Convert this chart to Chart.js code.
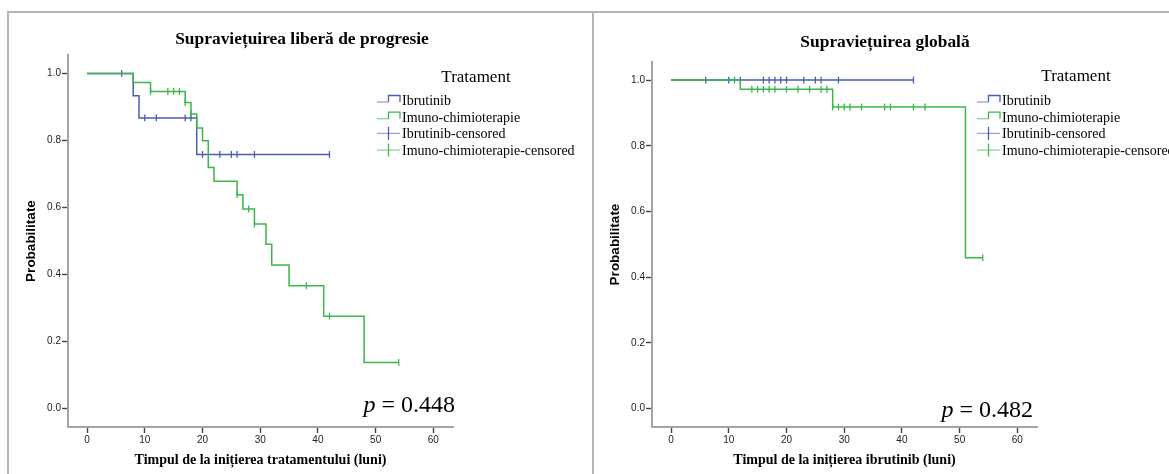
<!DOCTYPE html>
<html>
<head>
<meta charset="utf-8">
<script src="https://cdn.jsdelivr.net/npm/chart.js@4.4.1/dist/chart.umd.min.js"></script>
<style>
  html, body { margin: 0; padding: 0; background: #fff; }
  body { width: 1169px; height: 474px; position: relative; overflow: hidden; }
  .frame { position: absolute; left: 7px; top: 11px; width: 1200px; height: 500px;
           border-top: 2px solid #b4b4b4; border-left: 2px solid #b4b4b4; }
  .sep { position: absolute; left: 592px; top: 11px; width: 2px; height: 470px; background: #b4b4b4; }
  .box { position: absolute; top: 0; height: 474px; }
  #boxPfs { left: 0; width: 590px; }
  #boxOs { left: 584px; width: 585px; }
</style>
</head>
<body>
<div class="frame"></div>
<div class="sep"></div>
<div class="box" id="boxPfs"><canvas id="pfsChart"></canvas></div>
<div class="box" id="boxOs"><canvas id="osChart"></canvas></div>
<script>
// --- ticks si legenda
const timeTicks = [0, 10, 20, 30, 40, 50, 60];
const probTicks = [0, 0.2, 0.4, 0.6, 0.8, 1.0];
const legendLabels = ['Ibrutinib', 'Imuno-chimioterapie', 'Ibrutinib-censored', 'Imuno-chimioterapie-censored'];

// --- Supravietuirea libera de progresie (PFS)
const pfsIbrTime = [0, 8, 9, 19, 42];
const pfsIbrSurv = [1.0, 0.933, 0.867, 0.758, 0.758];
const pfsIbrCens = [6, 10, 12, 17, 18, 20, 23, 25, 26, 29, 42];
const pfsImunoTime = [0, 8, 11, 17, 18, 19, 20, 21, 22, 26, 27, 29, 31, 32, 35, 41, 48, 54];
const pfsImunoSurv = [1.0, 0.973, 0.946, 0.913, 0.879, 0.837, 0.799, 0.719, 0.678, 0.638, 0.595, 0.550, 0.490, 0.428, 0.366, 0.275, 0.137, 0.137];
const pfsImunoCens = [11, 14, 15, 16, 17, 18, 26, 28, 29, 38, 42, 54];
const pfsP = '0.448';

// --- Supravietuirea globala (OS)
const osIbrTime = [0, 42];
const osIbrSurv = [1.0, 1.0];
const osIbrCens = [6, 10, 12, 16, 17, 18, 19, 20, 23, 25, 26, 29, 42];
const osImunoTime = [0, 12, 28, 51, 54];
const osImunoSurv = [1.0, 0.972, 0.918, 0.459, 0.459];
const osImunoCens = [11, 14, 15, 16, 17, 18, 20, 22, 24, 26, 27, 28, 29, 30, 31, 33, 37, 38, 42, 44, 54];
const osP = '0.482';

const BLUE = '#4a5cb4';
const BLUE_LIGHT = '#97a3d8';
const GREEN = '#3cb54a';
const GREEN_LIGHT = '#8fd69a';

// valoarea curbei la momentul t (pentru semnele de cenzurare)
function stepAt(times, surv, t) {
    let s = surv[0];
    for (let i = 0; i < times.length; i++) {
        if (times[i] <= t) s = surv[i];
    }
    return s;
}

const curve = (times, surv) => times.map((t, i) => ({ x: t, y: surv[i] }));
const marks = (times, surv, cens) => cens.map(t => ({ x: t, y: stepAt(times, surv, t) }));

function kmDatasets(ibrT, ibrS, ibrC, imT, imS, imC) {
    const lineDs = (data, color, order) => ({
        data, borderColor: color, borderWidth: 1.5, stepped: true,
        pointRadius: 0, fill: false, order
    });
    const censDs = (data, color, order) => ({
        data, showLine: false, pointStyle: 'line', rotation: 90,
        pointRadius: 3.4, pointBorderColor: color, pointBorderWidth: 1.3, order
    });
    return [
        lineDs(curve(imT, imS), GREEN, 1),
        censDs(marks(imT, imS, imC), GREEN, 0),
        lineDs(curve(ibrT, ibrS), BLUE, 3),
        censDs(marks(ibrT, ibrS, ibrC), BLUE, 2)
    ];
}

// titlu, legenda si valoarea p
const decor = {
    id: 'decor',
    afterDraw(chart, args, o) {
        const ctx = chart.ctx;
        ctx.save();
        ctx.fillStyle = '#000';
        ctx.textBaseline = 'alphabetic';

        ctx.textAlign = 'center';
        ctx.font = 'bold 17.4px "Liberation Serif"';
        ctx.fillText(o.title, o.titleX, o.titleY);

        ctx.font = '17px "Liberation Serif"';
        ctx.fillText('Tratament', o.legX + 99, o.legTitleY);

        ctx.textAlign = 'left';
        ctx.font = '14px "Liberation Serif"';
        ctx.lineWidth = 1.3;
        legendLabels.forEach((label, i) => {
            const base = o.legY + i * 16.7;
            const dark = i % 2 === 0 ? BLUE : GREEN;
            const light = i % 2 === 0 ? BLUE_LIGHT : GREEN_LIGHT;
            const x0 = o.legX, x1 = o.legX + 23, xm = o.legX + 11.5;
            if (i < 2) {
                ctx.strokeStyle = light;
                ctx.beginPath();
                ctx.moveTo(x0, base - 3); ctx.lineTo(xm, base - 3);
                ctx.stroke();
                ctx.strokeStyle = dark;
                ctx.beginPath();
                ctx.moveTo(xm, base - 3); ctx.lineTo(xm, base - 9.5);
                ctx.lineTo(x1, base - 9.5); ctx.lineTo(x1, base - 3);
                ctx.stroke();
            } else {
                ctx.strokeStyle = light;
                ctx.beginPath();
                ctx.moveTo(x0, base - 5); ctx.lineTo(x1, base - 5);
                ctx.stroke();
                ctx.strokeStyle = dark;
                ctx.beginPath();
                ctx.moveTo(xm, base - 11.5); ctx.lineTo(xm, base + 1.5);
                ctx.stroke();
            }
            ctx.fillText(label, x1 + 2, base);
        });

        ctx.textAlign = 'right';
        ctx.font = '24px "Liberation Serif"';
        const rest = ' = ' + o.pValue;
        const wRest = ctx.measureText(rest).width;
        ctx.fillText(rest, o.pX, o.pY);
        ctx.font = 'italic 24px "Liberation Serif"';
        ctx.fillText('p', o.pX - wRest, o.pY);
        ctx.restore();
    }
};

const tickFont = { family: '"Liberation Sans", Arial, sans-serif', size: 10 };
const axisGrid = { drawOnChartArea: false, drawTicks: true, tickLength: 6, tickColor: '#444', tickWidth: 1.4 };
const axisBorder = { display: true, color: '#a3a3a3', width: 2 };

function kmOptions(cfg) {
    return {
        responsive: true,
        maintainAspectRatio: false,
        animation: false,
        layout: { padding: { left: 0, top: cfg.top, right: cfg.right, bottom: 0 } },
        plugins: {
            legend: { display: false },
            tooltip: { enabled: false },
            decor: cfg
        },
        scales: {
            x: {
                type: 'linear',
                min: -3.3,
                max: 63.4,
                afterBuildTicks: s => { s.ticks = timeTicks.map(v => ({ value: v })); },
                afterFit: s => { s.height = 47; },
                grid: axisGrid,
                border: axisBorder,
                ticks: { font: tickFont, color: '#222', padding: 1, maxRotation: 0, autoSkip: false, callback: v => String(v) },
                title: {
                    display: true, text: cfg.xTitle, color: '#000',
                    font: { family: '"Liberation Serif", serif', size: 14, weight: 'bold' },
                    padding: { top: 0, bottom: 5 }
                }
            },
            y: {
                type: 'linear',
                min: -0.056,
                max: 1.055,
                afterBuildTicks: s => { s.ticks = probTicks.map(v => ({ value: v })); },
                afterFit: s => { s.width = 68; },
                grid: axisGrid,
                border: axisBorder,
                ticks: { font: tickFont, color: '#222', padding: 1, autoSkip: false, callback: v => v.toFixed(1) },
                title: {
                    display: true, text: 'Probabilitate', color: '#000',
                    font: { family: '"Liberation Sans", Arial, sans-serif', size: 13.5, weight: 'bold' },
                    padding: { top: 23, bottom: 0 }
                }
            }
        }
    };
}

new Chart(document.getElementById('pfsChart'), {
    type: 'line',
    data: { datasets: kmDatasets(pfsIbrTime, pfsIbrSurv, pfsIbrCens, pfsImunoTime, pfsImunoSurv, pfsImunoCens) },
    options: kmOptions({
        top: 55, right: 137,
        title: 'Supraviețuirea liberă de progresie', titleX: 302, titleY: 44,
        xTitle: 'Timpul de la inițierea tratamentului (luni)',
        legX: 377, legTitleY: 81.5, legY: 105,
        pValue: pfsP, pX: 455, pY: 411.5
    }),
    plugins: [decor]
});

new Chart(document.getElementById('osChart'), {
    type: 'line',
    data: { datasets: kmDatasets(osIbrTime, osIbrSurv, osIbrCens, osImunoTime, osImunoSurv, osImunoCens) },
    options: kmOptions({
        top: 62, right: 132,
        title: 'Supraviețuirea globală', titleX: 301, titleY: 47,
        xTitle: 'Timpul de la inițierea ibrutinib (luni)',
        legX: 393, legTitleY: 81, legY: 105,
        pValue: osP, pX: 449, pY: 416.5
    }),
    plugins: [decor]
});
</script>
</body>
</html>
